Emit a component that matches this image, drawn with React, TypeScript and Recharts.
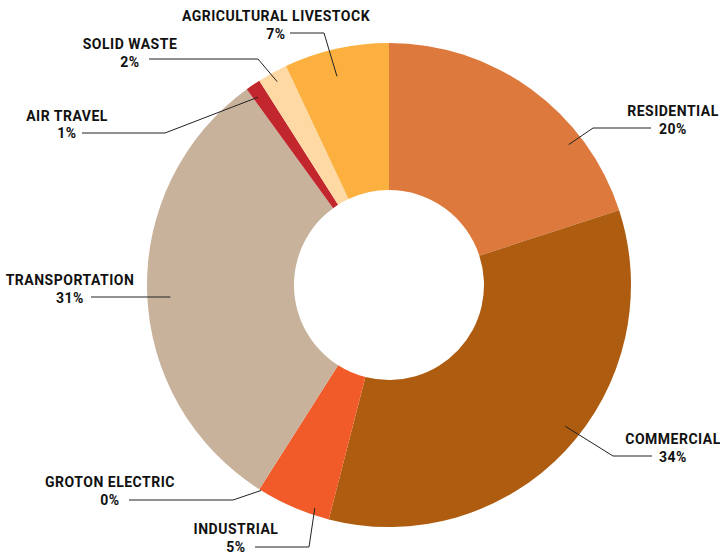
import React from "react";
import { PieChart, Pie, Cell } from "recharts";

const categories = [
	"Residential",
	"Commercial",
	"Industrial",
	"Groton Electric",
	"Transportation",
	"Air Travel",
	"Solid Waste",
	"Agricultural Livestock",
];
const shares = [20, 34, 5, 0, 31, 1, 2, 7];
const colors = ["#DD793C", "#AD5C10", "#F15A29", "#C8B29B", "#C8B29B", "#C1272D", "#FED9A3", "#FBB040"];

// label placement (text centre, baselines, leader elbow) per slice
const LABEL_LAYOUT = [
	{ x: 673, nameY: 116, pctY: 134, lineY: 128, lineX: 651, elbowX: 593, r: 228, nudge: 16 },
	{ x: 673, nameY: 444, pctY: 462, lineY: 456, lineX: 652, elbowX: 613, r: 226, nudge: -4.5 },
	{ x: 236, nameY: 534, pctY: 552, lineY: 547, lineX: 255, elbowX: 309, r: 235, nudge: -5 },
	{ x: 110, nameY: 487, pctY: 505, lineY: 500, lineX: 129, elbowX: 233, r: 242, nudge: -0.5 },
	{ x: 70, nameY: 285, pctY: 303, lineY: 297, lineX: 91, elbowX: null, r: 219, nudge: -1.3 },
	{ x: 67, nameY: 121, pctY: 138, lineY: 133, lineX: 82, elbowX: 165, r: 229, nudge: -0.7 },
	{ x: 130, nameY: 49, pctY: 67, lineY: 59, lineX: 149, elbowX: 258, r: 232, nudge: 0 },
	{ x: 276, nameY: 21, pctY: 38.5, lineY: 33, lineX: 290, elbowX: 324, r: 215, nudge: -1.4 },
];

const data = categories.map((name, i) => ({ name, value: shares[i] }));

const RADIAN = Math.PI / 180;
const FONT = {
	fontFamily: "Roboto, 'Noto Sans', sans-serif",
	fontWeight: 700,
	fontSize: 14,
	letterSpacing: 0.5,
	fill: "#111",
};

function renderLabel(props: any) {
	const { cx, cy, midAngle, index, name, value } = props;
	const l = LABEL_LAYOUT[index];
	const ang = (midAngle - l.nudge) * RADIAN;
	const ax = cx + l.r * Math.cos(ang);
	const ay = cy - l.r * Math.sin(ang);
	const pts =
		l.elbowX == null
			? `${l.lineX},${l.lineY} ${ax},${l.lineY}`
			: `${l.lineX},${l.lineY} ${l.elbowX},${l.lineY} ${ax},${ay}`;
	return (
		<g key={`lbl-${index}`}>
			<polyline points={pts} fill="none" stroke="#222" strokeWidth={1} />
			<text x={l.x} y={l.nameY} textAnchor="middle" {...FONT}>
				{name.toUpperCase()}
			</text>
			<text x={l.x} y={l.pctY} textAnchor="middle" {...FONT}>
				{`${value}%`}
			</text>
		</g>
	);
}

export default function App() {
	return (
		<div style={{ width: 720, height: 554, background: "#fff" }}>
			<style>{"body{margin:0}"}</style>
			<PieChart width={720} height={554} margin={{ top: 0, right: 0, bottom: 0, left: 0 }}>
				<Pie
					data={data}
					dataKey="value"
					nameKey="name"
					cx={389}
					cy={285}
					innerRadius={95}
					outerRadius={242}
					startAngle={90}
					endAngle={-270}
					stroke="none"
					label={renderLabel}
					labelLine={false}
					isAnimationActive={false}
				>
					{data.map((entry, idx) => (
						<Cell key={`cell-${idx}`} fill={colors[idx]} />
					))}
				</Pie>
			</PieChart>
		</div>
	);
}
